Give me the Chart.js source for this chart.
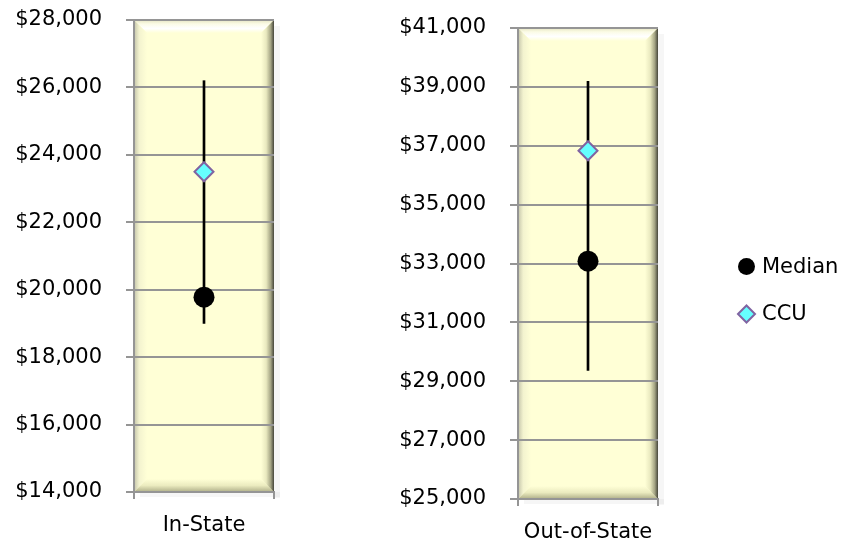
<!DOCTYPE html>
<html>
<head>
<meta charset="utf-8">
<script src="https://cdn.jsdelivr.net/npm/chart.js@4/dist/chart.umd.min.js"></script>
<style>
  html, body { margin: 0; padding: 0; background: #ffffff; }
  #wrap { position: relative; width: 845px; height: 545px; overflow: hidden; }
  canvas { position: absolute; top: 0; }
  #c1 { left: 0; }
  #c2 { left: 380px; }
</style>
</head>
<body>
<div id="wrap">
  <canvas id="c1" width="300" height="545"></canvas>
  <canvas id="c2" width="465" height="545"></canvas>
</div>
<script>
// ---- data ----
const categories = ['In-State', 'Out-of-State'];
const medianValues = [19780, 33080];
const ccuValues = [23500, 36830];
const rangeLow = [19000, 29370];
const rangeHigh = [26200, 39190];
const inStateTicks = [14000, 16000, 18000, 20000, 22000, 24000, 26000, 28000];
const outStateTicks = [25000, 27000, 29000, 31000, 33000, 35000, 37000, 39000, 41000];
const seriesLabels = ['Median', 'CCU'];

// ---- styles ----
const FONT = 'DejaVu Sans';
const FSIZE = 21;
const GRID = '#959595';
const BASE = '#FFFFD6';

const bevelPlugin = {
  id: 'bevel',
  beforeDraw(chart) {
    const a = chart.chartArea;
    const ctx = chart.ctx;
    const L = a.left, R = a.right, T = a.top, B = a.bottom, b = 13;
    ctx.save();
    // outer soft shadow
    ctx.fillStyle = 'rgba(0,0,0,0.035)';
    ctx.fillRect(R, T + 6, 6, B - T);
    ctx.fillRect(L + 6, B, R - L, 5);
    ctx.fillStyle = BASE;
    ctx.fillRect(L, T, R - L, B - T);
    const poly = (pts, fill) => {
      ctx.beginPath();
      ctx.moveTo(pts[0][0], pts[0][1]);
      for (let i = 1; i < pts.length; i++) ctx.lineTo(pts[i][0], pts[i][1]);
      ctx.closePath();
      ctx.fillStyle = fill;
      ctx.fill();
    };
    // top
    let g = ctx.createLinearGradient(0, T, 0, T + b);
    g.addColorStop(0, '#e6e5c2'); g.addColorStop(0.3, '#fbfbe6'); g.addColorStop(0.65, '#ffffff'); g.addColorStop(1, BASE);
    poly([[L, T], [R, T], [R - b, T + b], [L + b, T + b]], g);
    // left
    g = ctx.createLinearGradient(L, 0, L + b, 0);
    g.addColorStop(0, '#c4c4aa'); g.addColorStop(0.4, '#f3f3cf'); g.addColorStop(1, BASE);
    poly([[L, T], [L + b, T + b], [L + b, B - b], [L, B]], g);
    // bottom
    g = ctx.createLinearGradient(0, B - b, 0, B);
    g.addColorStop(0, BASE); g.addColorStop(0.5, '#ebebbf'); g.addColorStop(1, '#aeae88');
    poly([[L, B], [L + b, B - b], [R - b, B - b], [R, B]], g);
    // right
    g = ctx.createLinearGradient(R - b, 0, R, 0);
    g.addColorStop(0, BASE); g.addColorStop(0.4, '#e9e9bf'); g.addColorStop(0.75, '#a3a383'); g.addColorStop(1, '#45453a');
    poly([[R, T], [R, B], [R - b, B - b], [R - b, T + b]], g);
    ctx.restore();
  }
};

const legendPlugin = {
  id: 'sideLegend',
  afterDraw(chart) {
    const ctx = chart.ctx;
    const items = [
      { ds: chart.data.datasets[1], y: 266.5, r: 8.5 },
      { ds: chart.data.datasets[0], y: 314, r: 8.5 }
    ];
    ctx.save();
    items.forEach(it => {
      const ds = it.ds;
      ctx.fillStyle = ds.backgroundColor;
      ctx.strokeStyle = ds.borderColor;
      ctx.lineWidth = ds.borderWidth;
      Chart.helpers.drawPoint(ctx, { pointStyle: ds.pointStyle, radius: it.r, rotation: 0, borderWidth: ds.borderWidth }, 366.5, it.y);
      ctx.fillStyle = '#000000';
      ctx.font = FSIZE + 'px "' + FONT + '"';
      ctx.textBaseline = 'middle';
      ctx.textAlign = 'left';
      ctx.fillText(ds.label, 382, it.y + 1);
    });
    ctx.restore();
  }
};

function makeChart(canvasId, idx, ticks, pad, yWidth, xHeight, extraPlugins) {
  const tickVals = ticks;
  return new Chart(document.getElementById(canvasId), {
    type: 'bar',
    data: {
      labels: [categories[idx]],
      datasets: [
        {
          type: 'line', label: seriesLabels[1], data: [ccuValues[idx]], showLine: false,
          pointStyle: 'rectRot', pointRadius: 9.5, pointHoverRadius: 9.5,
          backgroundColor: '#66FFFF', borderColor: '#8064A2', borderWidth: 2, order: 1
        },
        {
          type: 'line', label: seriesLabels[0], data: [medianValues[idx]], showLine: false,
          pointStyle: 'circle', pointRadius: 10.5, pointHoverRadius: 10.5,
          backgroundColor: '#000000', borderColor: '#000000', borderWidth: 0, order: 2
        },
        {
          type: 'bar', label: 'Range', data: [[rangeLow[idx], rangeHigh[idx]]],
          backgroundColor: '#000000', borderWidth: 0, barThickness: 2, order: 3
        }
      ]
    },
    options: {
      responsive: false,
      animation: false,
      devicePixelRatio: 1,
      layout: { padding: pad },
      plugins: { legend: { display: false }, tooltip: { enabled: false } },
      scales: {
        x: {
          offset: true,
          grid: { offset: true, drawOnChartArea: false, drawTicks: true, tickLength: 7, color: GRID, lineWidth: 2 },
          border: { display: true, color: GRID, width: 2 },
          ticks: { color: '#000000', font: { family: FONT, size: FSIZE }, padding: 14 },
          afterFit: s => { s.height = xHeight; s.paddingLeft = 0; s.paddingRight = 0; }
        },
        y: {
          min: tickVals[0], max: tickVals[tickVals.length - 1],
          afterBuildTicks: s => { s.ticks = tickVals.map(v => ({ value: v })); },
          grid: { color: GRID, lineWidth: 2, tickLength: 8, drawTicks: true },
          border: { display: true, color: GRID, width: 2 },
          ticks: {
            color: '#000000', font: { family: FONT, size: FSIZE }, padding: 24,
            callback: v => '$' + Number(v).toLocaleString('en-US')
          },
          afterFit: s => { s.width = yWidth; s.paddingTop = 0; s.paddingBottom = 0; }
        }
      }
    },
    plugins: [bevelPlugin].concat(extraPlugins)
  });
}

makeChart('c1', 0, inStateTicks, { left: 0, top: 20, right: 26, bottom: 0 }, 134, 53, []);
makeChart('c2', 1, outStateTicks, { left: 0, top: 28, right: 187, bottom: 0 }, 138, 46, [legendPlugin]);
</script>
</body>
</html>
